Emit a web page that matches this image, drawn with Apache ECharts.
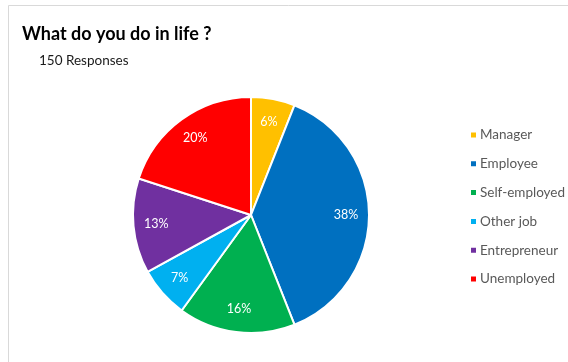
<!DOCTYPE html>
<html>
<head>
<meta charset="utf-8">
<title>What do you do in life ?</title>
<script src="https://cdn.jsdelivr.net/npm/echarts@6/dist/echarts.min.js"></script>
<style>
  html, body { margin: 0; padding: 0; background: #ffffff; }
  #chart { width: 568px; height: 362px; }
</style>
</head>
<body>
<div id="chart"></div>
<script>
// Survey answers, in percent of the 150 responses
const categories = ['Manager', 'Employee', 'Self-employed', 'Other job', 'Entrepreneur', 'Unemployed'];
const shares = [6, 38, 16, 7, 13, 20];
const sliceColors = ['#FFC000', '#0070C0', '#00B050', '#00B0F0', '#7030A0', '#FF0000'];

const titleText = 'What do you do in life ?';
const subtitleText = '150 Responses';

const FONT = 'Lato, "Open Sans", sans-serif';
const CENTER = [251, 215];
const RADIUS = 118;

const pieData = categories.map((name, i) => ({
  name,
  value: shares[i],
  itemStyle: { color: sliceColors[i] }
}));

const chart = echarts.init(document.getElementById('chart'), null, { renderer: 'canvas' });

chart.setOption({
  animation: false,
  backgroundColor: '#ffffff',
  title: [
    {
      text: titleText,
      left: 17,
      top: 20,
      textStyle: { fontFamily: FONT, fontSize: 18, fontWeight: 'bold', color: '#000000' }
    },
    {
      text: subtitleText,
      left: 34,
      top: 49,
      textStyle: { fontFamily: FONT, fontSize: 13.5, fontWeight: 'normal', color: '#1a1a1a' }
    }
  ],
  legend: {
    orient: 'vertical',
    left: 464,
    top: 123,
    icon: 'rect',
    itemWidth: 7,
    itemHeight: 7,
    itemGap: 14.8,
    data: categories,
    textStyle: { fontFamily: FONT, fontSize: 13.5, color: '#595959', lineHeight: 14, padding: [0, 0, 0, -2] }
  },
  graphic: [
    {
      type: 'polyline',
      silent: true,
      shape: { points: [[8.5, 362], [8.5, 5.5], [568, 5.5]] },
      style: { stroke: '#d9d9d9', lineWidth: 1, fill: null }
    }
  ],
  series: [
    {
      // the slices
      type: 'pie',
      center: CENTER,
      radius: RADIUS,
      startAngle: 90,
      clockwise: true,
      label: { show: false },
      labelLine: { show: false },
      emphasis: { disabled: true },
      itemStyle: { borderColor: '#ffffff', borderWidth: 2 },
      data: pieData
    },
    {
      // percentage labels, placed on a ring so they sit toward the rim
      type: 'pie',
      center: CENTER,
      radius: [RADIUS * 0.56, RADIUS],
      startAngle: 90,
      clockwise: true,
      silent: true,
      legendHoverLink: false,
      emphasis: { disabled: true },
      itemStyle: { color: 'rgba(0,0,0,0)', borderWidth: 0 },
      labelLine: { show: false },
      label: {
        show: true,
        position: 'inside',
        formatter: p => p.value + '%',
        fontFamily: FONT,
        fontSize: 12.5,
        color: '#ffffff'
      },
      data: categories.map((name, i) => ({ name, value: shares[i] }))
    }
  ]
});
</script>
</body>
</html>
